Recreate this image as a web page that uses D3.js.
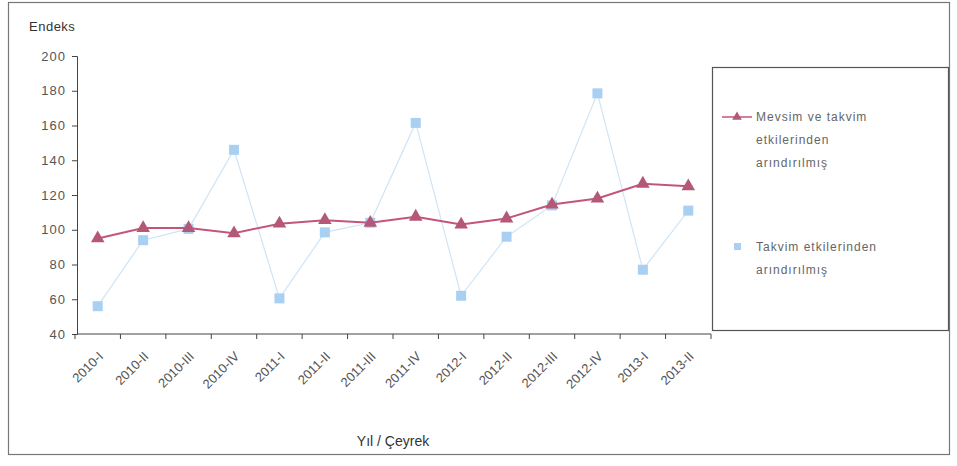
<!DOCTYPE html>
<html>
<head>
<meta charset="utf-8">
<script src="https://cdn.jsdelivr.net/npm/d3@7"></script>
<style>
  html, body { margin: 0; padding: 0; background: #fff; }
  svg { display: block; font-family: "Liberation Sans", Arial, sans-serif; }
</style>
</head>
<body>
<svg id="chart" width="957" height="466"></svg>
<script>
// Quarterly index, 2010-I .. 2013-II
const categories = ["2010-I","2010-II","2010-III","2010-IV","2011-I","2011-II","2011-III","2011-IV",
                    "2012-I","2012-II","2012-III","2012-IV","2013-I","2013-II"];
const seasonalAdjusted = [95, 101, 101, 98, 103.5, 105.5, 104, 107.5, 103, 106.5, 114.5, 118, 126.5, 125];
const calendarAdjusted = [56, 94, 100.5, 146, 60.5, 98.5, 104, 161.5, 62, 96, 114, 178.5, 77, 111];
const yTicks = [40, 60, 80, 100, 120, 140, 160, 180, 200];
const seriesNames = ["Mevsim ve takvim etkilerinden arındırılmış", "Takvim etkilerinden arındırılmış"];
const legendLines = [["Mevsim ve takvim", "etkilerinden", "arındırılmış"], ["Takvim etkilerinden", "arındırılmış"]];

const svg = d3.select("#chart");
const textColor = "#555";

// outer frame
svg.append("rect").attr("x", 8.5).attr("y", 2.5).attr("width", 941).attr("height", 452)
  .attr("fill", "#fff").attr("stroke", "#777").attr("stroke-width", 1.2);

const plot = { left: 77, right: 711, top: 56, bottom: 334 };

const x = d3.scaleBand().domain(categories).range([plot.left - 2, plot.right]);
const y = d3.scaleLinear().domain([40, 200]).range([plot.bottom, plot.top]);
const cx = d => x(d) + x.bandwidth() / 2;

// y axis
const yAxis = svg.append("g").attr("transform", `translate(${plot.left},0)`)
  .call(d3.axisLeft(y).tickValues(yTicks).tickSize(5).tickPadding(6));
yAxis.select(".domain").attr("stroke", "#444");
yAxis.selectAll(".tick line").attr("stroke", "#444");
yAxis.selectAll(".tick text").attr("fill", textColor).attr("font-size", 13).attr("letter-spacing", 1);

// x axis with ticks between categories
const xAxisG = svg.append("g").attr("transform", `translate(0,${plot.bottom})`);
xAxisG.append("line").attr("x1", plot.left).attr("x2", plot.right)
  .attr("stroke", "#444").attr("stroke-width", 1);
xAxisG.selectAll("line.tk").data(categories.concat(["end"])).join("line").attr("class", "tk")
  .attr("x1", (d, i) => i < categories.length ? x(d) : x.range()[1])
  .attr("x2", (d, i) => i < categories.length ? x(d) : x.range()[1])
  .attr("y1", 0).attr("y2", 5).attr("stroke", "#444");
xAxisG.selectAll("text").data(categories).join("text")
  .attr("transform", d => `translate(${cx(d) + 3},${20}) rotate(-45)`)
  .attr("text-anchor", "end").attr("dy", "0.35em")
  .attr("fill", textColor).attr("font-size", 13).text(d => d);

// axis titles
svg.append("text").attr("x", 29).attr("y", 31).attr("font-size", 13).attr("fill", "#333")
  .attr("letter-spacing", 0.5).text("Endeks");
svg.append("text").attr("x", 393).attr("y", 446).attr("text-anchor", "middle")
  .attr("font-size", 14).attr("fill", "#333").text("Yıl / Çeyrek");

const line = d3.line().x((d, i) => cx(categories[i])).y(d => y(d));

// calendar-adjusted series (light blue, squares)
const blue = "#a9d0f2";
svg.append("path").datum(calendarAdjusted).attr("d", line)
  .attr("fill", "none").attr("stroke", "#cfe4f7").attr("stroke-width", 1.2);
svg.selectAll("rect.sq").data(calendarAdjusted).join("rect").attr("class", "sq")
  .attr("x", (d, i) => cx(categories[i]) - 5).attr("y", d => y(d) - 5)
  .attr("width", 10).attr("height", 10).attr("fill", blue);

// seasonal and calendar adjusted series (red, triangles)
const red = "#c4557a";
svg.append("path").datum(seasonalAdjusted).attr("d", line)
  .attr("fill", "none").attr("stroke", red).attr("stroke-width", 2);
const tri = d3.symbol().type(d3.symbolTriangle).size(80);
svg.selectAll("path.tri").data(seasonalAdjusted).join("path").attr("class", "tri")
  .attr("transform", (d, i) => `translate(${cx(categories[i])},${y(d)})`)
  .attr("d", tri).attr("fill", "#b45878");

// legend
const lg = svg.append("g");
lg.append("rect").attr("x", 712.5).attr("y", 67.5).attr("width", 236).attr("height", 263)
  .attr("fill", "#fff").attr("stroke", "#555").attr("stroke-width", 1.2);
lg.append("line").attr("x1", 722).attr("x2", 752).attr("y1", 117).attr("y2", 117)
  .attr("stroke", red).attr("stroke-width", 1.5);
lg.append("path").attr("transform", "translate(737,117)").attr("d", d3.symbol().type(d3.symbolTriangle).size(40)).attr("fill", "#b45878");
lg.append("rect").attr("x", 734).attr("y", 243).attr("width", 7).attr("height", 7).attr("fill", blue);
legendLines.forEach((lines, k) => {
  const y0 = k === 0 ? 117 : 247;
  lines.forEach((t, j) => {
    lg.append("text").attr("x", 756).attr("y", y0 + j * 23).attr("dy", "0.35em")
      .attr("font-size", 12).attr("fill", "#666").attr("letter-spacing", 1).text(t);
  });
});
</script>
</body>
</html>
